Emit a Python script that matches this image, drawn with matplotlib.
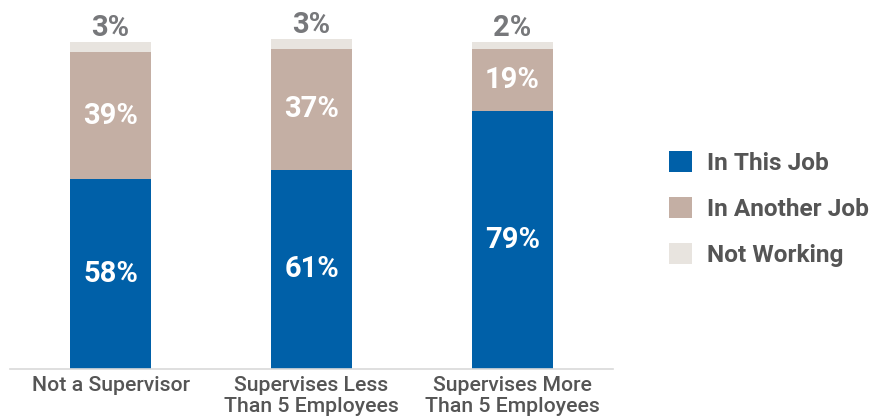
import matplotlib
matplotlib.use("Agg")
import matplotlib.pyplot as plt
from matplotlib.patches import Patch
import numpy as np

plt.rcParams['font.family'] = ['Roboto', 'DejaVu Sans']

categories = ["Not a Supervisor", "Supervises Less\nThan 5 Employees", "Supervises More\nThan 5 Employees"]
in_this_job = [58, 61, 79]
in_another_job = [39, 37, 19]
not_working = [3, 3, 2]
series_names = ["In This Job", "In Another Job", "Not Working"]

colors = ["#0060A8", "#C4AFA4", "#E8E4DF"]
label_grey = "#555555"
top_grey = "#77787B"

fig = plt.figure(figsize=(8.72, 4.20), dpi=100)
W, H = 872, 420
base_px = 368.5
top_px = base_px - 326 * 1.1
ax = fig.add_axes([10 / W, (H - base_px) / H, 603 / W, (base_px - top_px) / H])

x = np.arange(len(categories))
width = 0.4
series = [in_this_job, in_another_job, not_working]
bottom = np.zeros(len(categories))
bars = []
for vals, col in zip(series, colors):
    b = ax.bar(x, vals, width, bottom=bottom, color=col, linewidth=0)
    bars.append(b)
    bottom = bottom + np.array(vals)

# values inside the two lower segments
for b, vals in zip(bars[:2], series[:2]):
    for rect, v in zip(b, vals):
        ax.text(rect.get_x() + rect.get_width() / 2, rect.get_y() + rect.get_height() / 2,
                f"{v}%", ha="center", va="center", color="white",
                fontsize=21, fontweight="bold")

# values above the thin top segment
for rect, v in zip(bars[2], not_working):
    ax.annotate(f"{v}%", (rect.get_x() + rect.get_width() / 2, rect.get_y() + rect.get_height()),
                xytext=(0, 0), textcoords="offset points", ha="center", va="bottom",
                color=top_grey, fontsize=21, fontweight="bold")

ax.set_xlim(-0.5, 2.5)
ax.set_ylim(0, 110)
ax.set_xticks(x)
ax.set_xticklabels(categories, fontsize=15.3, fontweight="medium", color=label_grey,
                   linespacing=1.15)
ax.tick_params(axis="x", length=0, pad=5.5)
ax.set_yticks([])
for s in ["top", "left", "right"]:
    ax.spines[s].set_visible(False)
ax.spines["bottom"].set_color("#D9D9D9")
ax.spines["bottom"].set_linewidth(1.2)

handles = [Patch(facecolor=c, edgecolor="none") for c in colors]
leg = fig.legend(handles, series_names, loc="center left",
                 bbox_to_anchor=(669 / W, (H - 209) / H),
                 frameon=False, borderpad=0, borderaxespad=0,
                 handlelength=0.95, handleheight=0.95, handletextpad=0.6,
                 labelspacing=0.9, prop={"family": "Roboto", "weight": "bold", "size": 17.6})
for t in leg.get_texts():
    t.set_color(label_grey)

fig.savefig("out.png", dpi=100)
